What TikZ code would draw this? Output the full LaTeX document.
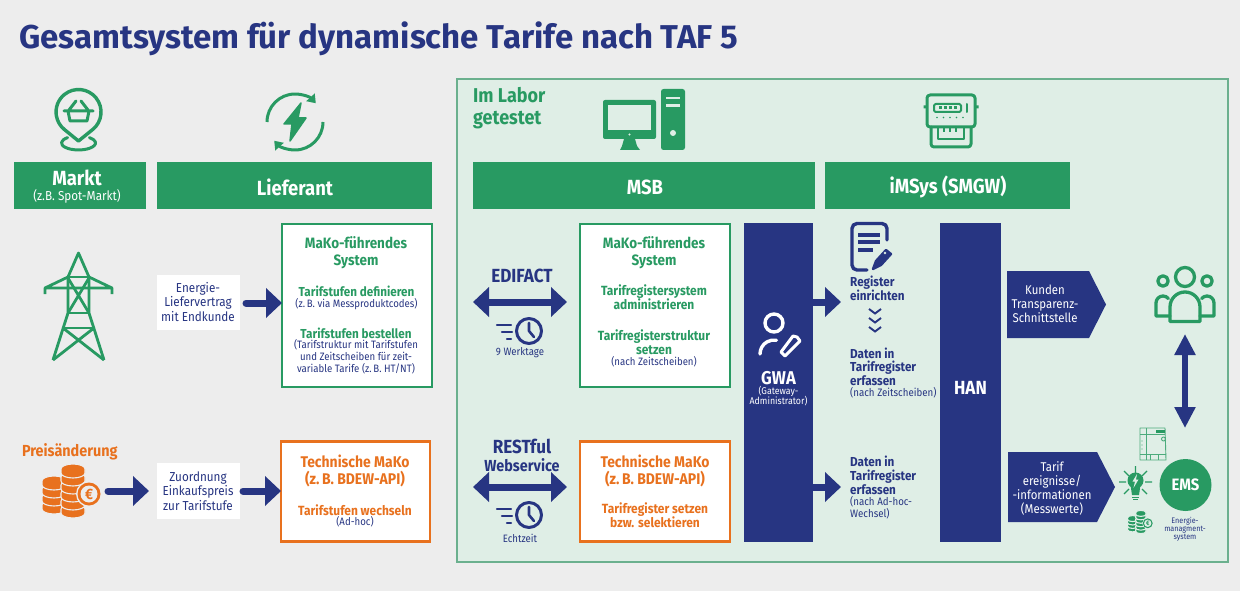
\documentclass[tikz,border=0pt]{standalone}
\usepackage{fontspec}
\setmainfont{Fira Sans}[FakeStretch=0.9]
\newfontfamily\titlefont{Fira Sans}
\usetikzlibrary{arrows.meta}
\definecolor{bgc}{HTML}{EDEDED}
\definecolor{labc}{HTML}{DFEEE6}
\definecolor{labl}{HTML}{6BB08E}
\definecolor{grn}{HTML}{289A62}
\definecolor{navy}{HTML}{273582}
\definecolor{org}{HTML}{E8711E}
\tikzset{
 tx/.style 2 args={font=\fontsize{#1}{#2}\selectfont,align=center,inner sep=0pt,outer sep=0pt},
 bx/.style 2 args={font=\fontsize{#1}{#2}\selectfont\bfseries,align=center,inner sep=0pt,outer sep=0pt},
 rect/.style n args={2}{anchor=north west,minimum width=#1,minimum height=#2,inner sep=0pt,outer sep=0pt},
 hdr/.style={fill=grn,text=white},
 greenbox/.style={fill=white,draw=grn,line width=2pt},
 orangebox/.style={fill=white,draw=org,line width=2.2pt},
 whitebox/.style={fill=white},
 bar/.style={fill=navy},
 arr/.style={draw=navy,line width=7pt,-{Triangle[length=16pt,width=29pt]}},
 arrc/.style={arr,line cap=round},
 darr/.style={draw=navy,line width=7pt,{Triangle[length=16pt,width=29pt]}-{Triangle[length=16pt,width=29pt]}},
 ic/.style={line width=3.4pt,draw=grn,line join=round,line cap=round},
 nc/.style={line width=3pt,draw=navy,line join=round,line cap=round},
}
\newcommand{\coinicon}[5]{%
 \begin{scope}[shift={(#1,#2)},scale=#3]
  \foreach \yy in {14,6,-2,-10}{
   \path[fill=#4,draw=#5,line width=1.1pt] (-29,\yy) -- (-29,\yy+4) arc[start angle=180,end angle=360,x radius=12pt,y radius=5pt] -- (-5,\yy) arc[start angle=0,end angle=180,x radius=12pt,y radius=5pt] -- cycle;
  }
  \foreach \yy in {18,10,2,-6,-14,-22}{
   \path[fill=#4,draw=#5,line width=1.1pt] (-10,\yy) -- (-10,\yy+4) arc[start angle=180,end angle=360,x radius=12pt,y radius=5pt] -- (14,\yy) arc[start angle=0,end angle=180,x radius=12pt,y radius=5pt] -- cycle;
  }
  \path[fill=#5] (18,3) circle[radius=13pt];
  \path[fill=#4] (18,3) circle[radius=11.5pt];
  \path[fill=#5] (18,3) circle[radius=8.5pt];
  \node[inner sep=0pt,text=#4,font=\fontsize{15}{15}\selectfont\bfseries,scale=#3] (#4coineuro) at (18,3) {€};
 \end{scope}}
\newcommand{\clockicon}[2]{%
 \begin{scope}[shift={(#1,#2)}]
  \draw[nc] (0,0) circle[radius=12.5pt];
  \draw[nc,line width=2.6pt] (0,-8) -- (0,0) -- (5,6);
  \draw[nc,line width=2.4pt] (-32,-6) -- (-18,-6) (-27,1) -- (-17,1) (-22,8) -- (-18,8);
 \end{scope}}
\begin{document}
\begin{tikzpicture}[x=1pt,y=-1pt]
\useasboundingbox (0,0) rectangle (1240,591);
\fill[bgc] (0,0) rectangle (1240,591);
\node[anchor=west,inner sep=0pt,text=navy,font=\titlefont\fontsize{33}{36}\selectfont\bfseries] (title) at (19,38.5) {Gesamtsystem für dynamische Tarife nach TAF 5};
% lab panel
\node[rect={771pt}{483pt},fill=labc,draw=labl,line width=1.2pt] (lab) at (457,79) {};
\node[anchor=north west,inner sep=0pt,text=grn,align=left,font=\fontsize{20}{22}\selectfont\bfseries] (labt) at (473,87.5) {Im Labor\\getestet};
% headers
\node[rect={132pt}{47pt},hdr] (markt) at (14,162) {};
\node[bx={20.5}{22},text=white] (marktt) at (77,178) {Markt};
\node[tx={13}{14},text=white] (marktu) at (77,196) {(z.B. Spot-Markt)};
\node[rect={275pt}{47pt},hdr] (lief) at (157,162) {};
\node[bx={20.5}{22},text=white] (lieft) at (295,187) {Lieferant};
\node[rect={342pt}{47pt},hdr] (msb) at (473,162) {};
\node[bx={20.5}{22},text=white] (msbt) at (645,187) {MSB};
\node[rect={245pt}{47pt},hdr] (imsys) at (825,162) {};
\node[bx={20.5}{22},text=white] (imsyst) at (948,187) {iMSys (SMGW)};
% lieferant boxes
\node[rect={150pt}{163pt},greenbox] (mako1) at (282,224) {};
\node[bx={15}{17},text=grn] (mako1a) at (356,252.5) {MaKo-führendes\\System};
\node[bx={13}{13},text=grn] (mako1b) at (356.5,291) {Tarifstufen definieren};
\node[tx={10.7}{12},text=navy] (mako1c) at (356.5,304) {(z.\,B. via Messproduktcodes)};
\node[bx={13}{13},text=grn] (mako1d) at (356,333) {Tarifstufen bestellen};
\node[tx={10.7}{12},text=navy] (mako1e) at (356,357) {(Tarifstruktur mit Tarifstufen\\und Zeitscheiben für zeit-\\variable Tarife (z.\,B. HT/NT)};
\node[rect={149pt}{100pt},orangebox] (tech1) at (281,441.5) {};
\node[bx={15.5}{17},text=org] (tech1a) at (355,470.5) {Technische MaKo\\(z.\,B. BDEW-API)};
\node[bx={13.3}{13},text=org] (tech1b) at (355,510) {Tarifstufen wechseln};
\node[tx={10.7}{12},text=navy] (tech1c) at (355,522) {(Ad-hoc)};
\node[rect={83pt}{55pt},whitebox] (energy) at (157,275) {};
\node[tx={13}{14.3},text=navy] (energyt) at (198,302) {Energie-\\Liefervertrag\\mit Endkunde};
\node[rect={83pt}{56pt},whitebox] (zuord) at (157,463) {};
\node[tx={13}{14.3},text=navy] (zuordt) at (198,491) {Zuordnung\\Einkaufspreis\\zur Tarifstufe};
\node[anchor=west,bx={16}{17},text=org] (preis) at (22,452) {Preisänderung};
\coordinate (e1) at (246,303);
\coordinate (priceout) at (108,491);
\coordinate (pricein) at (149,491);
\coordinate (z1) at (243,491);
\coordinate (ediL) at (473,302);
\coordinate (ediR) at (567,302);
\coordinate (restL) at (473,487);
\coordinate (restR) at (567,487);
\draw[arrc] (e1) -- (mako1.west |- e1);
\draw[arrc] (priceout) -- (pricein);
\draw[arrc] (z1) -- (tech1.west |- z1);
% MSB boxes
\node[rect={150pt}{163pt},greenbox] (mako2) at (580,224) {};
\node[bx={15}{17},text=grn] (mako2a) at (654,252.5) {MaKo-führendes\\System};
\node[bx={13.3}{14},text=grn] (mako2b) at (654,297) {Tarifregistersystem\\administrieren};
\node[bx={13.3}{14},text=grn] (mako2c) at (654,342) {Tarifregisterstruktur\\setzen};
\node[tx={10.7}{12},text=navy] (mako2d) at (654,362) {(nach Zeitscheiben)};
\node[rect={150pt}{100pt},orangebox] (tech2) at (580,441.5) {};
\node[bx={15.5}{17},text=org] (tech2a) at (655,470.5) {Technische MaKo\\(z.\,B. BDEW-API)};
\node[bx={13.3}{14},text=org] (tech2b) at (655,515) {Tarifregister setzen\\bzw. selektieren};
\draw[darr] (ediL) -- (ediR);
\draw[darr] (restL) -- (restR);
\node[bx={19}{20},text=navy] (edit) at (522,276) {EDIFACT};
\node[bx={19}{20},text=navy] (restt) at (522,446) {RESTful};
\node[bx={16}{17},text=navy] (webt) at (522,465) {Webservice};
\node[tx={10.7}{12},text=navy] (werk) at (520,353) {9 Werktage};
\node[tx={10.7}{12},text=navy] (echt) at (520,538) {Echtzeit};
\clockicon{529}{331}
\clockicon{529}{515}
% bars
\node[rect={69pt}{319pt},bar] (gwa) at (744,223) {};
\node[bx={18.5}{19},text=white] (gwat) at (778.5,378) {GWA};
\node[tx={9.8}{10.5},text=white] (gwau) at (778.5,396) {(Gateway-\\Administrator)};
\node[rect={61pt}{319pt},bar] (han) at (940,223) {};
\node[bx={19}{19},text=white] (hant) at (970.5,388) {HAN};
\coordinate (g1) at (841,302);
\coordinate (g2) at (841,487);
\draw[arr] (gwa.east |- g1) -- (g1);
\draw[arr] (gwa.east |- g2) -- (g2);
% register texts
\node[anchor=north west,inner sep=0pt,align=left,text=navy,font=\fontsize{13}{14}\selectfont\bfseries] (regt) at (850,276) {Register\\einrichten};
\node[anchor=north west,inner sep=0pt,align=left,text=navy,font=\fontsize{13}{13.5}\selectfont\bfseries] (dat1) at (850,347.5) {Daten in\\Tarifregister\\erfassen};
\node[anchor=north west,inner sep=0pt,align=left,text=navy,font=\fontsize{10.8}{12}\selectfont] (dat1u) at (850,387) {(nach Zeitscheiben)};
\node[anchor=north west,inner sep=0pt,align=left,text=navy,font=\fontsize{13}{14}\selectfont\bfseries] (dat2) at (850,455.5) {Daten in\\Tarifregister\\erfassen};
\node[anchor=north west,inner sep=0pt,align=left,text=navy,font=\fontsize{10.8}{12}\selectfont] (dat2u) at (850,496) {(nach Ad-hoc-\\Wechsel)};
\foreach \yy in {312,321,330}{\draw[navy,line width=1.9pt] (869,\yy-3) -- (875,\yy+1.5) -- (881,\yy-3);}
% pentagons
\fill[navy] (1007,271) -- (1089,271) -- (1106,304.5) -- (1089,338) -- (1007,338) -- cycle;
\node[tx={12.7}{14},text=white] (kund) at (1045,304) {Kunden\\Transparenz-\\Schnittstelle};
\fill[navy] (1008,452) -- (1097,452) -- (1115,487) -- (1097,522) -- (1008,522) -- cycle;
\node[tx={12.7}{14.3},text=white] (tarif) at (1052,488.5) {Tarif\\ereignisse/\\-informationen\\(Messwerte)};
% EMS
\node[circle,fill=grn,minimum size=52pt,inner sep=0pt,text=white,font=\fontsize{16.5}{17}\selectfont\bfseries] (ems) at (1185.5,485) {EMS};
\node[tx={8}{8.2},text=navy] (emst) at (1185,529) {Energie-\\managment-\\system};
\coordinate (pd) at (1185,334);
\coordinate (pu) at (1185,428);
\draw[darr,{Triangle[length=21pt,width=20pt]}-{Triangle[length=21pt,width=20pt]},line width=5.5pt] (pd) -- (pu);
% --- icons ---
% market pin
\draw[ic] (92.7,129.5) arc[start angle=-51,end angle=231,radius=22.5pt] -- (78.5,141) -- cycle;
\draw[ic,line width=3pt] (67.6,137.6) arc[start angle=130,end angle=410,x radius=17pt,y radius=7pt];
\draw[ic,line width=3pt] (64,111) -- (93,111) (68,111) -- (70,121) -- (87,121) -- (89,111) (69,110) -- (76,101) (88,110) -- (81,101);
% energy icon
\draw[ic,line width=3pt,line cap=butt,-{Triangle[length=8pt,width=11pt]}] (267,122) arc[start angle=180,end angle=42,radius=28pt];
\draw[ic,line width=3pt,line cap=butt,-{Triangle[length=8pt,width=11pt]}] (323,122) arc[start angle=0,end angle=-138,radius=28pt];
\fill[grn,draw=grn,line width=1.5pt,line join=round] (301,103) -- (284,124) -- (292,124) -- (290,141) -- (306,118) -- (298,118) -- cycle;
% tower
\begin{scope}[ic,line width=2.8pt,line cap=butt]
 \draw (53,360) -- (68,313) -- (68,277) -- (78.5,253) -- (89,277) -- (89,313) -- (104,360);
 \draw (45,294) -- (45,288) -- (68,277) (45,288) -- (112,288) (112,294) -- (112,288) -- (89,277);
 \draw (68,277) -- (89,277);
 \draw (68,278) -- (89,313) (89,278) -- (68,313);
 \draw (68,313) -- (89,313) (63,328) -- (94,328);
 \draw (63,328) -- (104,360) (94,328) -- (53,360);
\end{scope}
% coins
\coinicon{71}{491}{1}{org}{bgc}
\coinicon{1140}{522}{0.43}{grn}{labc}
% computer
\fill[grn,rounded corners=2pt] (603,100) rectangle (656,139);
\fill[labc] (608,105) rectangle (651,130);
\fill[labc] (629.5,134.5) circle[radius=1.2pt];
\fill[grn] (624,139) -- (635,139) -- (637,146) -- (640,150) -- (620,150) -- (622,146) -- cycle;
\fill[grn,rounded corners=2.5pt] (661,89) rectangle (685,150);
\draw[labc,line width=2.6pt] (666,98) -- (680,98) (666,105.5) -- (680,105.5);
\fill[labc] (673,133) circle[radius=3pt];
% meter
\draw[ic,line width=3pt,rounded corners=3pt] (927,95) rectangle (975,127);
\draw[ic,line width=3pt,rounded corners=3pt] (931,127) -- (931,147) -- (971,147) -- (971,127);
\draw[ic,line width=1.8pt] (938,127) -- (938,139) -- (964,139) -- (964,127);
\draw[ic,line width=2pt,rounded corners=1.5pt] (934,104) rectangle (961,112);
\draw[ic,line width=2pt] (967,104) -- (967,112);
\fill[grn] (923.5,105.5) rectangle (926,108.5) (976,105.5) rectangle (978.5,108.5);
\foreach \xx in {939,944,949,954}{\fill[grn] (\xx,106.5) rectangle ++(2.5,2.5);}
\foreach \xx in {937,943.5,950,956.5,963}{\fill[grn] (\xx,117.5) circle[radius=0.9pt];}
\foreach \xx in {944,950,956}{\draw[grn,line width=1.5pt] (\xx,127) -- (\xx,132);}
% doc
\draw[nc,line width=3.4pt,rounded corners=5pt] (867,270) -- (852,270) -- (852,223.5) -- (887,223.5) -- (887,240);
\draw[nc,line width=3.2pt,line cap=butt] (858,235) -- (880,235) (858,242) -- (880,242) (858,250) -- (873,250);
\draw[nc,line width=2.4pt] (873,269) -- (876,261) -- (886,250) -- (891,254) -- (881,265) -- cycle;
\fill[navy] (873,269) -- (876,261) -- (886,250) -- (891,254) -- (881,265) -- cycle;
\fill[labc] (885,253) circle[radius=1.4pt];
% gwa person
\draw[white,line width=3.4pt] (774,323) circle[radius=9pt];
\draw[white,line width=3.4pt,line cap=round] (760,354) arc[start angle=180,end angle=80,radius=14pt];
\draw[white,line width=3pt,line join=round] (781,352) -- (785,356) -- (800,341) -- (797,337) -- (793,336) -- cycle;
% people
\begin{scope}[ic,line width=3.3pt]
 \draw (1185,277) circle[radius=9.5pt];
 \draw (1163,281) circle[radius=5.2pt];
 \draw (1207,281) circle[radius=5.2pt];
 \draw (1170,321.5) -- (1170,307) arc[start angle=180,end angle=0,radius=15pt] -- (1200,321.5) -- cycle;
 \draw (1170,316) -- (1156,316) -- (1156,303) arc[start angle=180,end angle=40,radius=7pt];
 \draw (1200,316) -- (1214,316) -- (1214,303) arc[start angle=0,end angle=140,radius=7pt];
\end{scope}
% small device
\begin{scope}[grn!80!labc,line width=0.9pt,line join=round]
 \draw (1140,428) -- (1165,428) -- (1166,460) -- (1140,460) -- cycle;
 \draw (1140,434) -- (1165,434) (1140,454) -- (1166,454) (1146,428) -- (1146,460) (1150,454) -- (1150,460) (1158,454) -- (1158,460);
 \fill[grn] (1156,429.5) rectangle (1165,433);
 \draw (1163.5,439) circle[radius=2pt];
 \foreach \yy in {441,445,449}{\fill (1142,\yy) circle[radius=0.6pt];}
\end{scope}
% bulb
\fill[grn] (1135.5,480.5) circle[radius=8pt];
\fill[grn] (1130.5,485) -- (1140.5,485) -- (1139,495) -- (1132,495) -- cycle;
\draw[grn,line width=1pt] (1132,497) -- (1139,497) (1133,499.5) -- (1138,499.5);
\fill[labc] (1137,474) -- (1132.5,481.5) -- (1135,481.5) -- (1133.5,488) -- (1138.5,479.5) -- (1136,479.5) -- cycle;
\draw[grn,line width=1.2pt] (1135.5,466) -- (1135.5,473) (1119,482) -- (1126,482) (1145,482) -- (1152,482) (1124,471) -- (1129,476) (1147,471) -- (1142,476) (1124,494) -- (1129,489) (1147,494) -- (1142,489);
\end{tikzpicture}
\end{document}
